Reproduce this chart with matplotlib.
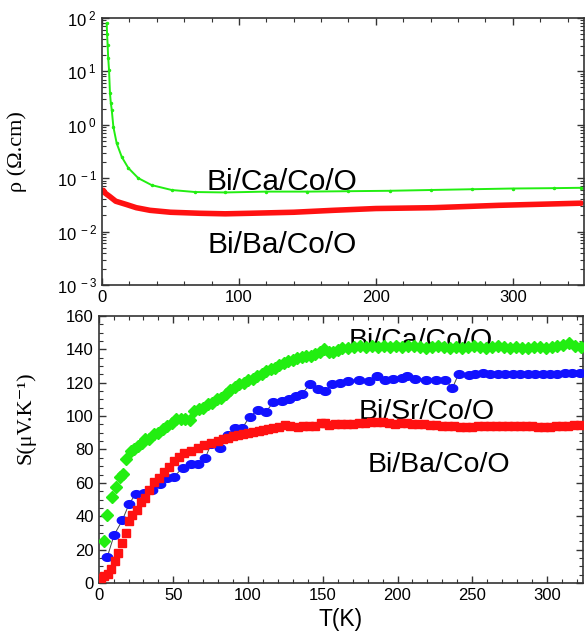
import numpy as np
import matplotlib
matplotlib.use('Agg')
from matplotlib import pyplot as plt
from matplotlib.ticker import MultipleLocator, LogLocator, FuncFormatter, NullFormatter
from matplotlib.path import Path

plt.rcParams['font.family'] = ['Liberation Sans', 'DejaVu Sans']
plt.rcParams['mathtext.fontset'] = 'custom'
plt.rcParams['mathtext.rm'] = 'Liberation Sans'
plt.rcParams['mathtext.it'] = 'Liberation Sans'

# resistivity (top panel)
rho_ca_T = [3.4, 3.7, 4.1, 4.5, 5.1, 5.8, 6.4, 7.1, 8.3, 10.7, 14.4, 19.2, 26.5, 36.3, 50.9,
            67.9, 90, 120, 150, 180, 210, 240, 270, 300, 330, 350]
rho_ca = [79, 50, 31, 18, 10.7, 3.9, 2.6, 1.9, 0.91, 0.45, 0.25, 0.155, 0.100, 0.074, 0.060,
          0.055, 0.054, 0.056, 0.056, 0.057, 0.058, 0.060, 0.062, 0.064, 0.065, 0.066]
rho_ba_T = [1, 2.5, 5.8, 10, 18, 25, 35, 50, 71.5, 90, 108, 140, 169, 200, 242, 290, 350]
rho_ba = [0.059, 0.052, 0.045, 0.037, 0.032, 0.028, 0.025, 0.023, 0.022, 0.0215, 0.022,
          0.023, 0.025, 0.027, 0.028, 0.031, 0.034]

# thermopower (bottom panel)
s_ca_T = [3.5, 5.8, 9, 11.5, 14.5, 16, 18, 21.5, 24, 26.5, 29, 31, 34, 37, 40, 43, 46, 49,
          52, 55, 58, 61, 64, 67, 70, 73, 76, 79, 82, 85, 88, 91, 94, 97, 100, 103, 106, 109,
          112, 115, 118, 121, 124, 127, 130, 133, 136, 139, 142, 145, 148, 151, 154, 157, 160,
          163, 167, 171, 175, 179, 183, 187, 191, 195, 199, 203, 207, 211, 215, 219, 223, 227,
          231, 235, 239, 243, 247, 251, 255, 259, 263, 267, 271, 275, 279, 283, 287, 291, 295,
          299, 303, 307, 311, 315, 319, 323]
s_ca = [25, 40.5, 51.5, 57.5, 63.5, 65.5, 74, 79, 80, 82, 84, 86, 86.5, 89, 90, 92, 94, 96,
        98, 98.5, 98, 97.5, 103, 104, 105, 107, 108, 110, 111, 113, 115.5, 117.5, 119, 120,
        121.5, 122.5, 124, 125.5, 127, 128, 129, 130.5, 131.5, 133, 133.5, 134.5, 135.5, 136,
        136, 137, 138.5, 140, 138.5, 138.5, 139.5, 140.5, 141, 141.5, 142, 141.5, 142, 141.5,
        142, 141.5, 142, 141.5, 142, 142, 141.5, 141, 141.5, 142, 141.5, 141, 141.5, 141,
        141.5, 142, 141.5, 141, 141.5, 142, 141.5, 141, 141.5, 141, 141, 141.5, 141.5, 141,
        141.5, 142, 142.5, 143.5, 142, 141.5]

s_sr_T = [5.8, 10.3, 15.9, 20.4, 24.9, 30.5, 36, 41.2, 46, 50.6, 56.3, 61.9, 66.8, 71.3, 75.3,
          81, 86.5, 91, 96, 101, 106.7, 112, 116.8, 122.4, 127.5, 132, 136, 141.4, 147, 151.5,
          156, 161.6, 167, 174, 180.6, 186.3, 191.9, 197, 203, 206.5, 212, 218.7, 225.4, 232,
          236.7, 241, 247.6, 252, 257, 262, 267, 272, 277, 282, 287, 292, 297, 302, 307, 312,
          317, 322]
s_sr = [15.6, 28.6, 37.7, 47.4, 53.5, 54, 55.5, 59.2, 62.7, 63.7, 69.2, 71.4, 71.4, 74.8, 83.3,
        80.9, 88.4, 92.6, 92.6, 99.6, 103.6, 102.5, 108.3, 109.3, 110, 112, 113.3, 119, 116.4,
        115, 119, 119.6, 121, 121.9, 121, 123.9, 121.9, 122.5, 123, 124, 122.5, 121.9, 121.4,
        121.4, 116.8, 125.5, 124.5, 125, 126, 125, 125, 125, 125, 125, 125, 125.5, 125.5,
        125.5, 125.5, 126, 126, 126]

s_ba_T = [1.3, 3.6, 6, 8.1, 10.8, 13, 15.9, 18.2, 20.4, 22.6, 26, 28.2, 31, 33.8, 37.2, 40.6,
          43.9, 47.3, 50.6, 54, 57.4, 61.9, 66.4, 70.8, 75.3, 79.8, 83, 86.5, 90, 93.3, 96.5,
          100, 103.5, 107, 110, 113.4, 117, 120.5, 124.6, 128, 133.6, 137, 141, 145, 149, 151.5,
          154, 158, 162, 166, 170, 174, 178, 182, 186, 190, 194, 198, 202, 206, 210, 214, 218,
          222, 226, 230, 234, 238, 242, 246, 250, 254, 258, 262, 266, 270, 274, 278, 282, 286,
          290, 294, 298, 302, 306, 310, 314, 318, 322]
s_ba = [2.8, 4, 5.6, 8.3, 13, 18, 24, 30.2, 37.3, 40.8, 43.8, 48.5, 51, 55.6, 60.7, 62.7, 66.7,
        69.8, 72.8, 75.2, 77.9, 79.1, 80.9, 82.9, 83.9, 85.3, 86, 87, 87.8, 88.6, 89.3, 90, 90.5,
        91, 91.5, 92, 92.8, 93.5, 94.5, 94, 93.7, 94, 94.3, 94.3, 95.9, 96, 94.8, 95, 95.2, 95.5,
        95.5, 95.8, 96, 96.3, 96.5, 96.3, 95.8, 95.5, 95.8, 96, 95.5, 95.2, 95, 94.8, 94.5, 94.3,
        94, 93.8, 93.5, 93.5, 93.7, 93.8, 93.8, 93.8, 93.8, 93.8, 93.8, 93.8, 93.8, 93.8, 93.8,
        93.5, 93.5, 93.5, 93.8, 94, 94.3, 94.5, 94.8]

green = '#22ee11'
red = '#ff1111'
blue = '#1111ff'
spine_col = '#333333'

fig = plt.figure(figsize=(5.87, 6.39), dpi=100)
ax1 = fig.add_axes([0.1738, 0.554, 0.821, 0.418])
ax2 = fig.add_axes([0.168, 0.0876, 0.825, 0.418])

for ax in (ax1, ax2):
    for s in ax.spines.values():
        s.set_color(spine_col)
        s.set_linewidth(1.2)
    ax.tick_params(which='both', direction='in', top=True, right=True, colors=spine_col,
                   labelcolor='black', labelsize=12)
    ax.tick_params(which='major', length=5, width=1)
    ax.tick_params(which='minor', length=3, width=0.8)

# top panel
ax1.plot(rho_ca_T, rho_ca, color=green, lw=1.4, marker='o', ms=1.5)
ax1.plot(rho_ba_T, rho_ba, color=red, lw=4, solid_capstyle='round')
ax1.set_yscale('log')
ax1.set_xlim(0, 352)
ax1.set_ylim(1e-3, 1e2)
ax1.xaxis.set_major_locator(MultipleLocator(100))
ax1.xaxis.set_minor_locator(MultipleLocator(20))
ax1.yaxis.set_major_locator(LogLocator(base=10, numticks=10))
ax1.yaxis.set_minor_locator(LogLocator(base=10, subs=np.arange(2, 10), numticks=10))
ax1.yaxis.set_minor_formatter(NullFormatter())
ax1.yaxis.set_major_formatter(FuncFormatter(lambda v, p: '10$^{\\ %d}$' % round(np.log10(v))))
ax1.set_ylabel('ρ (Ω.cm)', family=['Liberation Serif', 'DejaVu Serif'], fontsize=16)
ax1.yaxis.set_label_coords(-0.155, 0.5)
ax1.text(76.4, 0.060, 'Bi/Ca/Co/O', fontsize=21.5)
ax1.text(77.4, 0.0040, 'Bi/Ba/Co/O', fontsize=21.5)

# bottom panel
theta = np.linspace(0, 2 * np.pi, 30)
ellipse = Path(np.column_stack([1.35 * np.cos(theta), np.sin(theta)]))
ax2.text(167, 140.8, 'Bi/Ca/Co/O', fontsize=20.5, zorder=1)
ax2.text(173.8, 98.3, 'Bi/Sr/Co/O', fontsize=20.5, zorder=1)
ax2.text(179.7, 66.5, 'Bi/Ba/Co/O', fontsize=20.5, zorder=1)
ax2.plot(s_ca_T, s_ca, ls='none', marker='D', ms=6, color=green, mec=green, zorder=3)
ax2.plot(s_sr_T, s_sr, color='#444444', lw=0.7, marker=ellipse, ms=7.5, mfc=blue, mec=blue, zorder=3)
ax2.plot(s_ba_T, s_ba, ls='none', marker='s', ms=5.3, color=red, mec=red, zorder=3)
ax2.set_xlim(0, 324)
ax2.set_ylim(0, 160)
ax2.xaxis.set_major_locator(MultipleLocator(50))
ax2.xaxis.set_minor_locator(MultipleLocator(10))
ax2.yaxis.set_major_locator(MultipleLocator(20))
ax2.yaxis.set_minor_locator(MultipleLocator(5))
ax2.set_xlabel('T(K)', fontsize=16.5, labelpad=4)
ax2.set_ylabel('S(μV.K⁻¹)', family=['Liberation Serif', 'DejaVu Serif'], fontsize=16)
ax2.yaxis.set_label_coords(-0.13, 0.62)

fig.savefig('out.png', dpi=100)
